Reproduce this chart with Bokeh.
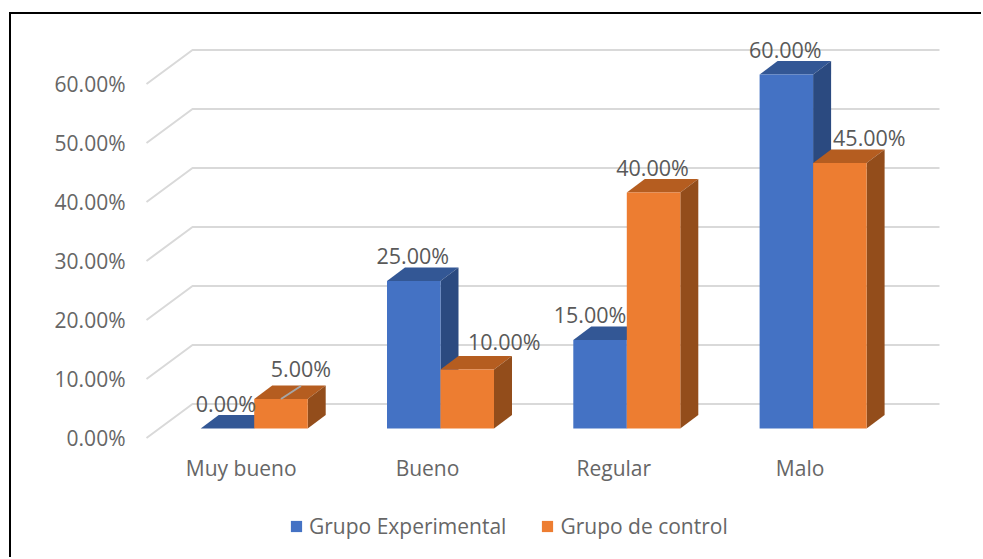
from bokeh.plotting import figure
from bokeh.embed import file_html
from bokeh.resources import INLINE
from bokeh.models import FixedTicker, Legend, LegendItem
from bokeh.core.properties import value

categories = ["Muy bueno", "Bueno", "Regular", "Malo"]
experimental = [0, 25, 15, 60]
control = [5, 10, 40, 45]
series_names = ["Grupo Experimental", "Grupo de control"]
y_ticks = [0, 10, 20, 30, 40, 50, 60]

FONT = value("Open Sans")
BLUE = ("#4472C4", "#335795", "#2B4A80")
ORANGE = ("#ED7D31", "#B55D20", "#934D1B")
TXT = "#595959"
AXIS_TXT = "#666666"
PX_X, PX_Y = 186.3, 5.9          # pixels per category / per percentage point
X0_PAGE, Y0_PAGE = 240.7, 437.5  # page position of first category / of 0%
BORDER = 2
FIG_X, FIG_Y = 9, 12             # page position of the outer border
FRAME_L, FRAME_T = 135, FIG_Y + BORDER
W_PAGE, H_PAGE = 983, 559

p = figure(width=W_PAGE - FIG_X - BORDER, height=H_PAGE - FIG_Y - BORDER, output_backend="svg",
           toolbar_location=None, tools="",
           x_range=((FRAME_L - X0_PAGE) / PX_X, (W_PAGE - X0_PAGE) / PX_X),
           y_range=((Y0_PAGE - H_PAGE) / PX_Y, (Y0_PAGE - FRAME_T) / PX_Y),
           min_border_left=FRAME_L - FIG_X - BORDER, min_border_right=0,
           min_border_top=0, min_border_bottom=0,
           outline_line_color=None, background_fill_color="white",
           margin=(FIG_Y, 0, 0, FIG_X))
p.xgrid.visible = False
p.ygrid.visible = False
p.styles = {"border-top": f"{BORDER}px solid #000", "border-left": f"{BORDER}px solid #000"}

# axes
xa = p.xaxis[0]
xa.fixed_location = 0
xa.ticker = FixedTicker(ticks=list(range(len(categories))))
xa.major_label_overrides = {i: c for i, c in enumerate(categories)}
xa.axis_line_color = None
xa.major_tick_line_color = None
xa.minor_tick_line_color = None
xa.major_label_standoff = 10
xa.major_label_text_font = "Open Sans"
xa.major_label_text_font_size = "21px"
xa.major_label_text_color = AXIS_TXT

ya = p.yaxis[0]
ya.ticker = FixedTicker(ticks=y_ticks)
ya.major_label_overrides = {v: f"{v:.2f}%" for v in y_ticks}
ya.axis_line_color = None
ya.major_tick_line_color = None
ya.minor_tick_line_color = None
ya.major_label_standoff = 4
ya.major_label_text_font = "Open Sans"
ya.major_label_text_font_size = "21px"
ya.major_label_text_color = AXIS_TXT

# 3-D geometry, in data units derived from pixel sizes
wall_dx, wall_dy = 46 / PX_X, 34 / PX_Y
grid_left = (146 - X0_PAGE) / PX_X
grid_right = (939 - X0_PAGE) / PX_X
p.multi_line(
    [[grid_left, grid_left + wall_dx, grid_right] for _ in y_ticks],
    [[v, v + wall_dy, v + wall_dy] for v in y_ticks],
    line_color="#D9D9D9", line_width=2)

floor_dx, floor_dy = 13 / PX_X, 9.5 / PX_Y
bar_w = 53.5 / PX_X
depth_dx, depth_dy = 18 / PX_X, 13.5 / PX_Y

# draw category by category so that nearer bars overlap correctly
r_blue = r_orange = None
for i in range(len(categories)):
    left = i + floor_dx
    for shift, vals, cols in ((-1, experimental, BLUE), (0, control, ORANGE)):
        l = left + shift * bar_w
        r = l + bar_w
        t = vals[i] + floor_dy
        p.patch([l, l + depth_dx, r + depth_dx, r],
                [t, t + depth_dy, t + depth_dy, t],
                fill_color=cols[1], line_color=None)
        p.patch([r, r + depth_dx, r + depth_dx, r],
                [t, t + depth_dy, floor_dy + depth_dy, floor_dy],
                fill_color=cols[2], line_color=None)
        q = p.quad(left=[l], right=[r], top=[t], bottom=[floor_dy],
                   fill_color=cols[0], line_color=None)
        if shift == -1:
            r_blue = q
        else:
            r_orange = q

# leader line of the 5.00% label
lx = 0 + floor_dx + 0.5 * bar_w
ly = control[0] + floor_dy
p.segment([lx], [ly], [lx + 20 / PX_X], [ly + 13 / PX_Y], line_color="#A6A6A6", line_width=2)

# data labels: manual pixel shifts as in the source chart
blue_shift = [(-1.5, -25), (-1, -26), (-10, -26), (-1, -25)]
orange_shift = [(20, -31), (37, -28), (-1, -25), (29.5, -26)]
for shift, vals, offs in ((-1, experimental, blue_shift), (0, control, orange_shift)):
    p.text([i + floor_dx + (shift + 0.5) * bar_w for i in range(len(vals))],
           [v + floor_dy for v in vals],
           text=[f"{v:.2f}%" for v in vals],
           x_offset=[o[0] for o in offs], y_offset=[o[1] for o in offs],
           text_align="center", text_baseline="middle",
           text_font=FONT, text_font_size="21.5px", text_color=TXT)

legend = Legend(items=[LegendItem(label=series_names[0], renderers=[r_blue]),
                       LegendItem(label=series_names[1], renderers=[r_orange])],
                orientation="horizontal", location=(154, 19),
                glyph_width=14, glyph_height=14, label_standoff=6, spacing=34,
                padding=0, margin=0, border_line_color=None, background_fill_alpha=0,
                label_text_font="Open Sans", label_text_font_size="21px",
                label_text_color=AXIS_TXT)
p.add_layout(legend)

open("out.html", "w").write(file_html(p, INLINE))
